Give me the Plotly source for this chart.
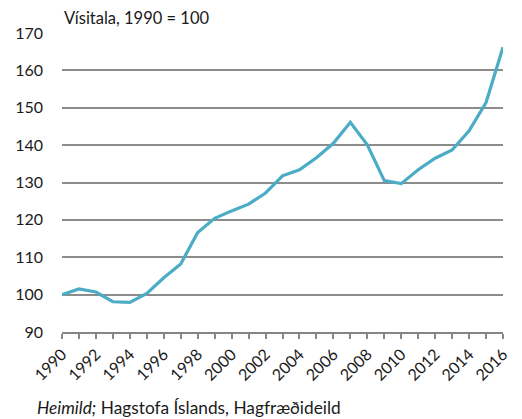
import plotly.graph_objects as go

years = list(range(1990, 2017))
values = [100.0, 101.5, 100.7, 98.1, 97.9, 100.3, 104.5, 108.2, 116.6, 120.4, 122.4,
          124.2, 127.2, 131.8, 133.4, 136.6, 140.5, 146.1, 140.1, 130.5, 129.7,
          133.4, 136.5, 138.7, 143.8, 151.4, 166.2]
y_ticks = [90, 100, 110, 120, 130, 140, 150, 160, 170]
x_tick_labels = [str(y) if y % 2 == 0 else "" for y in years]

FONT = "Lato"
FS = 16

fig = go.Figure()
fig.add_trace(go.Scatter(x=years, y=values, mode="lines",
                         line=dict(color="#4bacc6", width=3.2),
                         hoverinfo="skip", showlegend=False))

# page body has an 8px default margin, so the figure is sized/offset to compensate
fig.update_layout(
    width=514, height=411,
    margin=dict(l=54, r=19, t=25, b=87),
    paper_bgcolor="white", plot_bgcolor="white",
    font=dict(family=FONT, size=FS, color="#1a1a1a"),
    xaxis=dict(range=[1990, 2016], tickmode="array",
               tickvals=years, ticktext=x_tick_labels,
               tickangle=-45, ticks="outside", ticklen=5, tickcolor="#868686",
               tickwidth=1.5, showgrid=False, showline=True, linecolor="#868686",
               linewidth=1.5, zeroline=False, fixedrange=True, automargin=False),
    yaxis=dict(range=[90, 170], tickvals=y_ticks, showgrid=True,
               gridcolor="#8c8c8c", gridwidth=1.5, showline=False, zeroline=False,
               ticklabelstandoff=18, fixedrange=True, automargin=False),
    annotations=[
        dict(text="Vísitala, 1990 = 100", xref="paper", yref="paper",
             x=0, y=1, xanchor="left", yanchor="bottom", yshift=3,
             showarrow=False, font=dict(family=FONT, size=16.5, color="#1a1a1a")),
        dict(text="<i>Heimild;</i> Hagstofa Íslands, Hagfræðideild",
             xref="paper", yref="paper", x=-0.0612, y=0, xanchor="left",
             yanchor="top", yshift=-63, showarrow=False,
             font=dict(family=FONT, size=17.3, color="#1a1a1a")),
    ],
)

fig.write_html("out.html")
